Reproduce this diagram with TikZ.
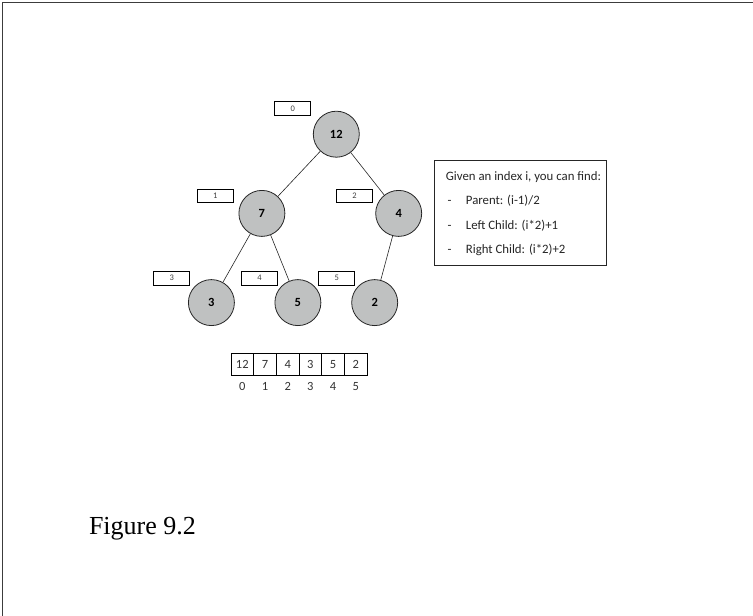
\documentclass[tikz,border=0pt]{standalone}
\usepackage{fontspec}
\newfontfamily\calibri{Carlito}
\newfontfamily\capfont{Liberation Serif}
\definecolor{nodegray}{RGB}{191,193,193}
\definecolor{framegray}{RGB}{60,60,60}
\begin{document}
\begin{tikzpicture}[x=1pt,y=-1pt,
  val/.style={circle, draw=black!85, line width=0.8pt, fill=nodegray, minimum size=46pt, inner sep=0pt,
    font=\calibri\bfseries\fontsize{12.5}{14}\selectfont},
  idx/.style={draw=black, line width=0.7pt, minimum width=36pt, minimum height=13.5pt, inner sep=0pt,
    font=\calibri\fontsize{8.5}{9}\selectfont, text=black!75},
  cell/.style={draw=black, line width=0.7pt, minimum width=22.7pt, minimum height=22.5pt, inner sep=0pt,
    font=\calibri\fontsize{12.5}{14}\selectfont, text=black!80},
  cidx/.style={anchor=base, inner sep=0pt, font=\calibri\fontsize{12.5}{14}\selectfont, text=black!80},
  infotext/.style={anchor=base west, inner sep=0pt, font=\calibri\fontsize{12.8}{15}\selectfont, text=black!85},
  edge/.style={draw=black!85, line width=0.6pt}
]
\useasboundingbox (0,0) rectangle (753,616);
\fill[white] (0,0) rectangle (753,616);
% frame
\draw[framegray, line width=1.2pt] (2.6,616) -- (2.6,2.6) -- (753,2.6);

% tree nodes
\node[val] (n0) at (336.3,134.2) {12};
\node[val] (n1) at (261.9,213.4) {7};
\node[val] (n2) at (398.7,213.4) {4};
\node[val] (n3) at (211.4,302.6) {3};
\node[val] (n4) at (297.9,302.6) {5};
\node[val] (n5) at (374.7,302.6) {2};

\draw[edge] (n0) -- (n1);
\draw[edge] (n0) -- (n2);
\draw[edge] (n1) -- (n3);
\draw[edge] (n1) -- (n4);
\draw[edge] (n2) -- (n5);

% index boxes
\node[idx] (i0) at (292.8,108.4) {0};
\node[idx] (i1) at (215.3,195.9) {1};
\node[idx] (i2) at (354.5,195.9) {2};
\node[idx] (i3) at (171.8,278.2) {3};
\node[idx] (i4) at (259.5,278.2) {4};
\node[idx] (i5) at (336.8,278.2) {5};

% info box
\node[draw=black!85, line width=0.8pt, minimum width=172pt, minimum height=105pt, inner sep=0pt] (info) at (520.4,213) {};
\node[infotext] (t0) at (445.7,180.6) {Given an index i, you can find:};
\node[infotext] (d1) at (447.5,204.2) {-};
\node[infotext] (t1) at (465.7,204.2) {Parent: (i-1)/2};
\node[infotext] (d2) at (447.5,229.0) {-};
\node[infotext] (t2) at (465.7,229.0) {Left Child: (i*2)+1};
\node[infotext] (d3) at (447.5,253.0) {-};
\node[infotext] (t3) at (465.7,253.0) {Right Child: (i*2)+2};

% array
\node[cell] (a0) at (242.3,364.5) {12};
\node[cell] (a1) at (265.0,364.5) {7};
\node[cell] (a2) at (287.7,364.5) {4};
\node[cell] (a3) at (310.3,364.5) {3};
\node[cell] (a4) at (333.0,364.5) {5};
\node[cell] (a5) at (355.7,364.5) {2};
\node[cidx] (b0) at (242.3,390.5) {0};
\node[cidx] (b1) at (265.0,390.5) {1};
\node[cidx] (b2) at (287.7,390.5) {2};
\node[cidx] (b3) at (310.3,390.5) {3};
\node[cidx] (b4) at (333.0,390.5) {4};
\node[cidx] (b5) at (355.7,390.5) {5};

% caption
\node[anchor=base west, inner sep=0pt, font=\capfont\fontsize{26}{30}\selectfont] (cap) at (88.8,534.4) {Figure 9.2};
\end{tikzpicture}
\end{document}
